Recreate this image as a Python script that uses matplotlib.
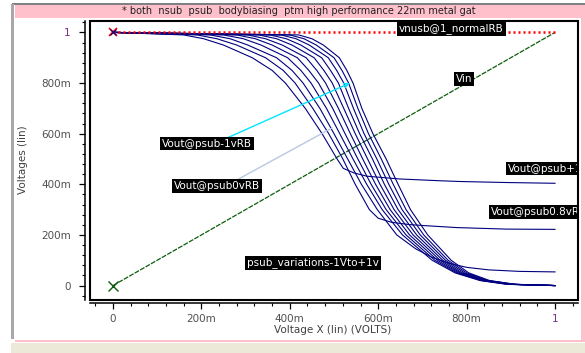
import matplotlib
matplotlib.use('Agg')
import matplotlib.pyplot as plt
from matplotlib.patches import Rectangle
from matplotlib.ticker import AutoMinorLocator

y_levels = [1.0, 0.99, 0.975, 0.95, 0.9, 0.85, 0.8, 0.7, 0.6, 0.5, 0.4, 0.3, 0.2, 0.1, 0.05, 0.02, 0.005]

# full swing curves (psub +0.4v down to -1v), x at each y level
x_psub_p04 = [0, 0.25, 0.295, 0.335, 0.395, 0.425, 0.448, 0.483, 0.513, 0.543, 0.574, 0.609, 0.655, 0.722, 0.774, 0.83, 0.89]
x_psub_p02 = [0, 0.28, 0.322, 0.36, 0.417, 0.443, 0.465, 0.497, 0.525, 0.554, 0.584, 0.618, 0.663, 0.728, 0.778, 0.833, 0.894]
x_psub_0 = [0, 0.305, 0.345, 0.383, 0.437, 0.461, 0.481, 0.51, 0.537, 0.565, 0.594, 0.627, 0.671, 0.734, 0.782, 0.836, 0.897]
x_psub_m02 = [0, 0.33, 0.37, 0.405, 0.455, 0.477, 0.496, 0.522, 0.548, 0.576, 0.604, 0.636, 0.679, 0.74, 0.786, 0.839, 0.90]
x_psub_m04 = [0, 0.355, 0.392, 0.425, 0.472, 0.492, 0.51, 0.533, 0.558, 0.587, 0.614, 0.645, 0.687, 0.746, 0.79, 0.842, 0.902]
x_psub_m06 = [0, 0.38, 0.414, 0.444, 0.487, 0.506, 0.522, 0.544, 0.568, 0.597, 0.624, 0.654, 0.695, 0.752, 0.795, 0.845, 0.905]
x_psub_m08 = [0, 0.40, 0.432, 0.46, 0.50, 0.518, 0.533, 0.554, 0.578, 0.607, 0.634, 0.663, 0.703, 0.758, 0.80, 0.848, 0.908]
x_psub_m1 = [0, 0.42, 0.45, 0.476, 0.512, 0.529, 0.543, 0.563, 0.588, 0.618, 0.645, 0.673, 0.712, 0.765, 0.805, 0.852, 0.91]

# forward biased curves that don't pull all the way down
x_psub_p1 = [0, 0.16, 0.205, 0.25, 0.315, 0.36, 0.39, 0.435, 0.473, 0.507, 0.521, 0.545, 0.574, 0.649, 0.74, 0.786, 0.89, 1.0]
y_psub_p1 = [1.0, 0.99, 0.975, 0.95, 0.9, 0.85, 0.8, 0.7, 0.6, 0.5, 0.463, 0.445, 0.432, 0.421, 0.414, 0.411, 0.407, 0.404]
x_psub_p08 = [0, 0.19, 0.235, 0.28, 0.345, 0.385, 0.412, 0.452, 0.488, 0.52, 0.548, 0.58, 0.60, 0.63, 0.67, 0.703, 0.778, 0.891, 1.0]
y_psub_p08 = [1.0, 0.99, 0.975, 0.95, 0.9, 0.85, 0.8, 0.7, 0.6, 0.5, 0.4, 0.3, 0.266, 0.25, 0.241, 0.237, 0.229, 0.223, 0.222]
x_psub_p06 = [0, 0.22, 0.265, 0.305, 0.37, 0.405, 0.43, 0.468, 0.5, 0.531, 0.562, 0.598, 0.642, 0.685, 0.72, 0.76, 0.80, 0.85, 0.92, 1.0]
y_psub_p06 = [1.0, 0.99, 0.975, 0.95, 0.9, 0.85, 0.8, 0.7, 0.6, 0.5, 0.4, 0.3, 0.2, 0.145, 0.113, 0.088, 0.072, 0.062, 0.056, 0.054]

vin_x = [0, 1]
vin_y = [0, 1]
rb_x = [0, 1]
rb_y = [1, 1]

ticks = [0, 0.2, 0.4, 0.6, 0.8, 1.0]
tick_labels = ['0', '200m', '400m', '600m', '800m', '1']

title = '* both  nsub  psub  bodybiasing  ptm high performance 22nm metal gat'

W, H = 585, 353
fig = plt.figure(figsize=(W / 100, H / 100), dpi=100)
fig.patch.set_facecolor('white')


def chrome(x0, y0, x1, y1, color):
    # window decoration in pixel coords
    fig.add_artist(Rectangle((x0 / W, 1 - y1 / H), (x1 - x0) / W, (y1 - y0) / H,
                             transform=fig.transFigure, facecolor=color,
                             edgecolor='none', zorder=0))


chrome(12, 3, 585, 4.5, '#808080')
chrome(15, 4.5, 585, 18, '#ffc0cb')
chrome(581, 18, 585, 341, '#ffc0cb')
chrome(15, 340, 585, 342, '#ffc0cb')
chrome(11, 343, 585, 353, '#ece9d8')
chrome(11, 4, 14, 339, '#a8a8a8')

fig.text(299 / W, 1 - 11 / H, title, ha='center', va='center', fontsize=7, color='#202020')

ax = fig.add_axes([90 / W, 1 - 300 / H, 488 / W, 279 / H])
ax.set_xlim(-0.052, 1.052)
ax.set_ylim(-0.057, 1.045)

ax.plot(vin_x, vin_y, color='#0b5d0b', lw=0.9, ls=(0, (4, 1)), zorder=2)
ax.plot([0], [0], 'x', color='#0b5d0b', ms=7, mew=1, zorder=3)

full = [x_psub_p04, x_psub_p02, x_psub_0, x_psub_m02, x_psub_m04, x_psub_m06, x_psub_m08, x_psub_m1]
for xs in full:
    ax.plot(xs + [1.0], y_levels + [0.0], color='#000080', lw=0.8, zorder=3)
for xs, ys in [(x_psub_p1, y_psub_p1), (x_psub_p08, y_psub_p08), (x_psub_p06, y_psub_p06)]:
    ax.plot(xs, ys, color='#000080', lw=0.8, zorder=3)

ax.plot(rb_x, rb_y, color='#ff0000', lw=1.8, ls=(0, (0.8, 1.2)), zorder=4)
ax.plot([0], [1], 'x', color='#ff0000', ms=6, mew=1.2, zorder=4)
ax.plot([0], [1], 'x', color='#000080', ms=4, mew=0.8, zorder=4)

# leader lines from the labels
ax.annotate('', xy=(0.536, 0.800), xytext=(0.2376, 0.567),
            arrowprops=dict(arrowstyle='->', color='#00e5ff', lw=1, shrinkA=0, shrinkB=0,
                            mutation_scale=8), zorder=5)
ax.annotate('', xy=(0.4955, 0.6225), xytext=(0.2715, 0.409),
            arrowprops=dict(arrowstyle='-', color='#b8c8e0', lw=1, shrinkA=0, shrinkB=0),
            zorder=5)

lab = dict(color='white', fontsize=7.5, va='center', ha='left', clip_on=True, zorder=6,
           bbox=dict(boxstyle='square,pad=0.18', fc='black', ec='none'))
ax.text(0.647, 1.014, 'vnusb@1_normalRB', **lab)
ax.text(0.776, 0.816, 'Vin', **lab)
ax.text(0.111, 0.561, 'Vout@psub-1vRB', **lab)
ax.text(0.138, 0.393, 'Vout@psub0vRB', **lab)
ax.text(0.894, 0.462, 'Vout@psub+1vRB', **lab)
ax.text(0.855, 0.29, 'Vout@psub0.8vRB', **lab)
ax.text(0.303, 0.089, 'psub_variations-1Vto+1v', **lab)

# frame plus detached axis lines
ax.spines['top'].set_visible(False)
ax.spines['right'].set_visible(False)
ax.spines['left'].set_position(('outward', 3.6))
ax.spines['bottom'].set_position(('outward', 2.5))
ax.spines['left'].set_linewidth(1.1)
ax.spines['bottom'].set_linewidth(1.1)
ax.add_patch(Rectangle((0, 0), 1, 1, transform=ax.transAxes, fill=False, lw=1.5,
                       ec='black', clip_on=False, zorder=7))

ax.set_xticks(ticks)
ax.set_xticklabels(tick_labels)
ax.set_yticks(ticks)
ax.set_yticklabels(tick_labels)
ax.xaxis.set_minor_locator(AutoMinorLocator(5))
ax.yaxis.set_minor_locator(AutoMinorLocator(5))
ax.tick_params(which='major', direction='out', length=4.3, width=0.9, labelsize=7.5,
               labelcolor='#505050')
ax.tick_params(which='minor', direction='out', length=2.2, width=0.8)
ax.tick_params(axis='y', pad=6)
ax.tick_params(axis='x', pad=3)
ax.get_xticklabels()[-1].set_color('#7b2d8e')
ax.get_yticklabels()[-1].set_color('#7b2d8e')

fig.text(23 / W, 1 - 160 / H, 'Voltages (lin)', rotation=90, ha='center', va='center',
         fontsize=7.5, color='#404040')
fig.text(333 / W, 1 - 330 / H, 'Voltage X (lin) (VOLTS)', ha='center', va='center',
         fontsize=7.5, color='#404040')

fig.savefig('out.png', dpi=100)
